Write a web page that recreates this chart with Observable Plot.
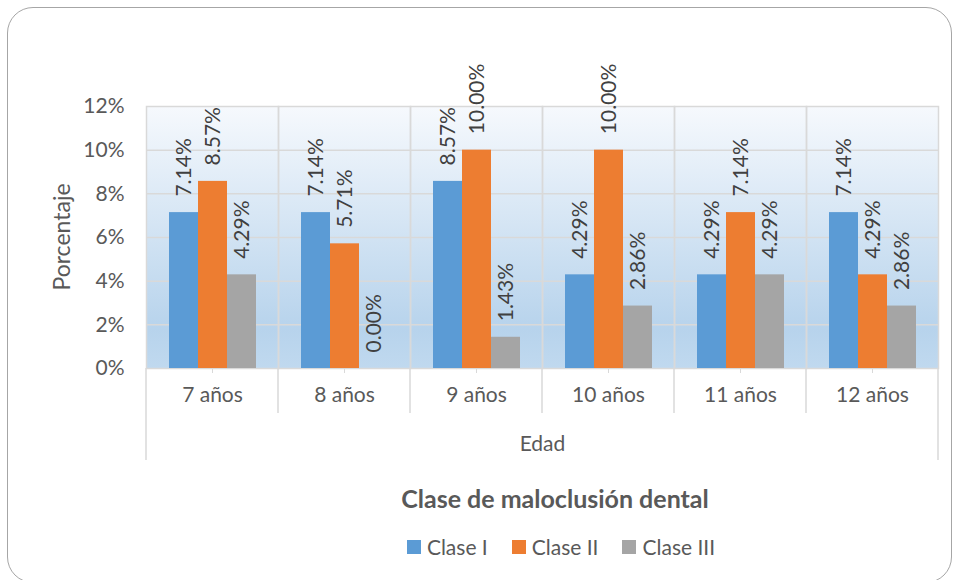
<!DOCTYPE html>
<html><head><meta charset="utf-8">
<script src="https://cdn.jsdelivr.net/npm/d3@7"></script>
<script src="https://cdn.jsdelivr.net/npm/@observablehq/plot@0.6"></script>
<style>
body{margin:0;background:#fff;font-family:Lato,sans-serif;width:955px;height:580px;overflow:hidden;position:relative;}
#frame{position:absolute;left:7px;top:7px;width:945px;height:576px;border:1.5px solid #a6a6a6;border-radius:26px;box-sizing:border-box;}
#chart{position:absolute;left:0;top:0;}
#title{position:absolute;left:158px;width:794px;top:483px;text-align:center;font-weight:bold;font-size:25px;color:#595959;}
#legend{position:absolute;left:164px;width:794px;top:534px;display:flex;justify-content:center;gap:24px;font-size:21px;color:#595959;}
#legend span.item{display:flex;align-items:center;}
#legend span.sw{display:inline-block;width:14px;height:14px;margin-right:6px;}
</style></head>
<body>
<div id="frame"></div>
<div id="chart"></div>
<div id="title">Clase de maloclusión dental</div>
<div id="legend"></div>
<script>
const ages = ["7 años","8 años","9 años","10 años","11 años","12 años"];
const classes = ["Clase I","Clase II","Clase III"];
const claseI = [7.14,7.14,8.57,4.29,4.29,7.14];
const claseII = [8.57,5.71,10.00,10.00,7.14,4.29];
const claseIII = [4.29,0.00,1.43,2.86,4.29,2.86];
const yTicks = [0,2,4,6,8,10,12];
const colors = ["#5b9bd5","#ed7d31","#a5a5a5"];

const series = [claseI, claseII, claseIII];
const rows = [];
ages.forEach((a,i) => classes.forEach((c,j) => rows.push({age:a, clase:c, value:series[j][i]})));

const plot = Plot.plot({
  width:955, height:470,
  marginLeft:145, marginRight:16, marginTop:106, marginBottom:102,
  style:{fontFamily:"Lato, sans-serif", fontSize:"21px", color:"#595959", background:"transparent"},
  fx:{domain:ages, padding:0, axis:null},
  x:{domain:classes, paddingOuter:0.75, paddingInner:0, axis:null},
  y:{domain:[0,12], axis:null},
  color:{domain:classes, range:colors},
  marks:[
    Plot.frame({fill:"url(#bggrad)", stroke:"none"}),
    Plot.ruleY(yTicks.slice(1,-1), {stroke:"#d9d9d9", strokeWidth:1.5}),
    Plot.frame({stroke:"#d9d9d9", strokeWidth:1.5}),
    Plot.barY(rows, {fx:"age", x:"clase", y:"value", fill:"clase"}),
    Plot.text(rows, {fx:"age", x:"clase", y:"value", text:d=>d.value.toFixed(2)+"%",
      rotate:-90, textAnchor:"start", lineAnchor:"middle", dy:-16, fill:"#404040", fontSize:21}),
    Plot.axisY(yTicks, {tickSize:0, tickPadding:22, tickFormat:d=>d+"%", fontSize:21, fill:"#595959",
      label:null}),
    Plot.axisFx({anchor:"bottom", tickSize:5, tickPadding:14, fontSize:21, fill:"#595959", stroke:"#d9d9d9",
      label:"Edad", labelAnchor:"center", labelOffset:82, labelArrow:"none"})
  ]
});
document.getElementById("chart").appendChild(plot);

const svg = d3.select(plot.tagName.toLowerCase()==="svg" ? plot : plot.querySelector("svg"));
svg.insert("defs", ":first-child").html(
 '<linearGradient id="bggrad" x1="0" y1="0" x2="0" y2="1">' +
 '<stop offset="0" stop-color="#f6f9fd"/>' +
 '<stop offset="0.85" stop-color="#b7d3ec"/>' +
 '<stop offset="1" stop-color="#c0d9ef"/></linearGradient>');

const fx = plot.scale("fx"), ys = plot.scale("y");
const y0 = ys.apply(0), yTop = ys.apply(12);
const starts = fx.domain.map(v => fx.apply(v));
const bounds = starts.concat([starts[starts.length-1] + fx.bandwidth]);
bounds.forEach((b,i) => {
  const outer = i===0 || i===bounds.length-1;
  svg.append("line").attr("x1",b).attr("x2",b).attr("y1",y0).attr("y2",y0 + (outer?92:45))
    .attr("stroke","#d9d9d9").attr("stroke-width",1.5);
});
svg.append("text").attr("transform",`translate(${fx.range[0]-83},${(y0+yTop)/2}) rotate(-90)`)
  .attr("text-anchor","middle").attr("dy","0.35em").attr("fill","#595959")
  .style("font-size","23px").style("font-family","Lato, sans-serif").text("Porcentaje");

const leg = d3.select("#legend");
classes.forEach((c,i) => {
  const it = leg.append("span").attr("class","item");
  it.append("span").attr("class","sw").style("background",colors[i]);
  it.append("span").text(c);
});
</script>
</body></html>
